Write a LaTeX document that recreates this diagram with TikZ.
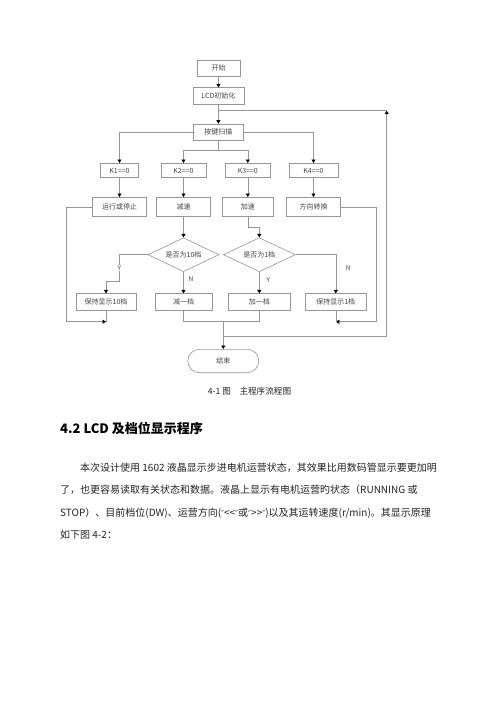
\documentclass[tikz,border=0pt]{standalone}
\usepackage{fontspec}
\usetikzlibrary{arrows.meta,shapes.geometric}
\newfontfamily\cjk{Noto Sans CJK SC}
\newfontfamily\dvs{DejaVu Sans}
\newcommand{\dq}{{\dvs\fontsize{8}{10}\selectfont ″}}
\definecolor{lgray}{RGB}{150,150,150}
\definecolor{txtgray}{RGB}{70,70,70}
\definecolor{bodytxt}{RGB}{35,35,35}
\begin{document}
\begin{tikzpicture}[x=1pt,y=-1pt,
  line/.style={draw=lgray, line width=0.6pt},
  arr/.style={line, -{Triangle[length=3.5pt,width=4pt,color=black]}},
  box/.style={draw=lgray, line width=0.6pt, inner sep=0pt, text=txtgray,
    font=\cjk\fontsize{7}{8}\selectfont},
  dia/.style={box, shape=diamond, aspect=2.1},
  lbl/.style={inner sep=0.5pt, text=txtgray, font=\cjk\fontsize{6.5}{7}\selectfont},
  body/.style={anchor=west, inner sep=0pt, text=bodytxt, font=\cjk\fontsize{10}{12}\selectfont}]
\useasboundingbox (0,0) rectangle (500,707);
\fill[white] (0,0) rectangle (500,707);

% top chain
\node[box, minimum width=43, minimum height=16] (start) at (218.5,68) {开始};
\node[box, minimum width=51, minimum height=16.6] (lcd) at (218.4,96) {LCD初始化};
\node[box, minimum width=50.6, minimum height=16] (scan) at (218.4,132) {按键扫描};

% key tests
\node[box, minimum width=37.6, minimum height=14.4] (k1) at (119.5,170.5) {K1==0};
\node[box, minimum width=44.7, minimum height=14.4] (k2) at (183.5,170.5) {K2==0};
\node[box, minimum width=44.3, minimum height=14.4] (k3) at (247.8,170.5) {K3==0};
\node[box, minimum width=49.3, minimum height=14.4] (k4) at (313.5,170.5) {K4==0};

% actions
\node[box, minimum width=54.4, minimum height=19.4] (a1) at (119.5,207) {运行或停止};
\node[box, minimum width=54.4, minimum height=19.4] (a2) at (183.5,207) {减速};
\node[box, minimum width=51, minimum height=19.4] (a3) at (247.8,207) {加速};
\node[box, minimum width=53.6, minimum height=19.4] (a4) at (313.5,207) {方向转换};

% decisions
\node[dia, minimum width=71, minimum height=34] (d1) at (183.5,254.7) {是否为10档};
\node[dia, minimum width=72, minimum height=34] (d2) at (259.3,254.7) {是否为1档};

% results
\node[box, minimum width=60, minimum height=17] (b1) at (106,302.2) {保持显示10档};
\node[box, minimum width=56.7, minimum height=17] (b2) at (183.5,302.2) {减一档};
\node[box, minimum width=61.7, minimum height=17] (b3) at (259.3,302.2) {加一档};
\node[box, minimum width=61.7, minimum height=17] (b4) at (335.8,302.2) {保持显示1档};

% end
\node[box, minimum width=71, minimum height=23.4, rounded corners=11.7] (fin) at (223.3,361) {结束};

% coordinates
\coordinate (fbtop) at (386.7,110.7);
\coordinate (fbleft) at (218.4,110.7);
\coordinate (fbbot) at (386.7,336.7);
\coordinate (fbmid) at (223.3,336.7);
\coordinate (split) at (218.4,150.7);
\coordinate (lx) at (66.7,321.7);
\coordinate (rx) at (376,321.7);
\coordinate (j1) at (106,321.7);
\coordinate (j4) at (335.8,321.7);
\coordinate (jm) at (223.3,321.7);
\coordinate (jl) at (183.5,321.7);
\coordinate (jr) at (259.3,321.7);
\coordinate (ybend) at (119.3,281.7);
\coordinate (a3bend) at (247.8,227.3);

% connectors
\draw[arr] (start) -- (lcd);
\draw[arr] (lcd) -- (scan);
\draw[arr] (scan.west) -| (k1.north);
\draw[arr] (scan.east) -| (k4.north);
\draw[line] (scan.south) -- (split);
\draw[arr] (split) -| (k2.north);
\draw[arr] (split) -| (k3.north);
\draw[arr] (k1) -- (a1);
\draw[arr] (k2) -- (a2);
\draw[arr] (k3) -- (a3);
\draw[arr] (k4) -- (a4);
\draw[arr] (a2) -- (d1);
\draw[arr] (a3.south) -- (a3bend) -| (d2.north);
\draw[arr] (d1.west) -| (ybend) -| (b1.north);
\draw[arr] (d1.south) -- (b2.north);
\draw[arr] (d2.south) -- (b3.north);
\draw[arr] (d2.east) -| (b4.north);
\node[lbl, fill=white] (ylab1) at (119.3,268) {Y};
\node[lbl] (nlab1) at (191,279) {N};
\node[lbl] (ylab2) at (268.3,280) {Y};
\node[lbl] (nlab2) at (348.3,267.7) {N};

\draw[line] (a1.west) -| (lx);
\draw[arr] (lx) -- (j1);
\draw[line] (b1.south) -- (j1);
\draw[line] (a4.east) -| (rx);
\draw[arr] (rx) -- (j4);
\draw[line] (b4.south) -- (j4);
\draw[line] (b2.south) -- (jl) -- (jr) -- (b3.south);
\draw[arr] (jm) -- (fin.north);
\draw[line] (fbmid) -- (fbbot);
\draw[arr] (fbbot) -- (fbtop);
\draw[line] (fbtop) -- (fbleft);

% caption and text
\node[inner sep=0pt, text=bodytxt, font=\cjk\fontsize{8.6}{10}\selectfont] (cap) at (249.5,391.7) {4-1 图　主程序流程图};
\node[anchor=west, inner sep=0pt, text=black, font=\cjk\bfseries\fontsize{13}{15}\selectfont] (head) at (60,428.3) {4.2 LCD 及档位显示程序};
\node[body] (p1) at (80,467.7) {本次设计使用 1602 液晶显示步进电机运营状态，其效果比用数码管显示要更加明};
\node[body] (p2) at (60,490) {了，也更容易读取有关状态和数据。液晶上显示有电机运营旳状态（RUNNING 或};
\node[body] (p3) at (60,512.7) {STOP）、目前档位(DW)、运营方向(\dq<<\dq 或\dq>>\dq)以及其运转速度(r/min)。其显示原理};
\node[body] (p4) at (60,535) {如下图 4-2：};
\end{tikzpicture}
\end{document}
